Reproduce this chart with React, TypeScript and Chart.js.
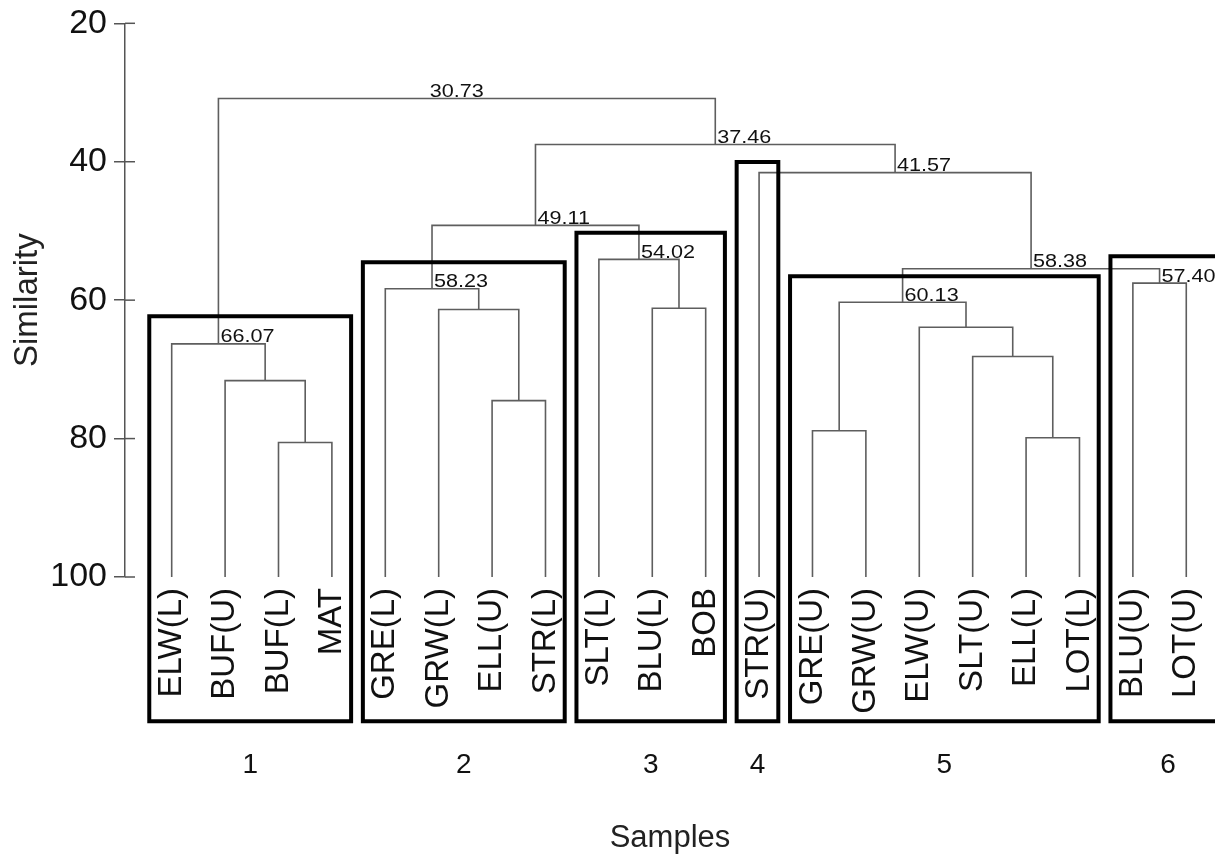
import React, { useEffect, useRef } from 'react';
import { Chart, registerables } from 'chart.js';

Chart.register(...registerables);

const FONT = "'Liberation Sans', Arial, Helvetica, sans-serif";

// Leaves (samples), left to right
const leafLabels = [
  'ELW(L)', 'BUF(U)', 'BUF(L)', 'MAT',
  'GRE(L)', 'GRW(L)', 'ELL(U)', 'STR(L)',
  'SLT(L)', 'BLU(L)', 'BOB',
  'STR(U)',
  'GRE(U)', 'GRW(U)', 'ELW(U)', 'SLT(U)', 'ELL(L)', 'LOT(L)',
  'BLU(U)', 'LOT(U)',
];

// Merges: child index < 20 is a leaf, >= 20 is merge (index - 20)
const mergeLeft = [2, 1, 0, 6, 5, 4, 9, 8, 25, 12, 16, 15, 14, 29, 18, 33, 11, 28, 22];
const mergeRight = [3, 20, 21, 7, 23, 24, 10, 26, 27, 13, 17, 30, 31, 32, 19, 34, 35, 36, 37];
// Similarity level at which each merge is drawn
const mergeHeight = [80.56, 71.63, 66.32, 74.52, 61.35, 58.36, 61.16, 54.11, 49.19, 78.87, 79.88, 68.15, 63.91, 60.3, 57.54, 55.46, 41.57, 37.51, 30.86];
// Printed node values
const mergeLabels = ['', '', '66.07', '', '', '58.23', '', '54.02', '49.11', '', '', '', '', '60.13', '57.40', '58.38', '41.57', '37.46', '30.73'];

// Cluster groups (boxes)
const clusterNames = ['1', '2', '3', '4', '5', '6'];
const clusterFirst = [0, 4, 8, 11, 12, 18];
const clusterLast = [3, 7, 10, 11, 17, 19];
const clusterTop = [62.32, 54.51, 50.25, 40.03, 56.53, 53.64];
const clusterBottom = 120.84;

const yTicks = [20, 40, 60, 80, 100];
const leafLevel = 100;

const X_MIN = -0.8745;
const X_MAX = 19.538;

const nLeaves = leafLabels.length;
const mergeX: number[] = [];
mergeLeft.forEach((a, k) => {
  const b = mergeRight[k];
  const xa = a < nLeaves ? a : mergeX[a - nLeaves];
  const xb = b < nLeaves ? b : mergeX[b - nLeaves];
  mergeX.push((xa + xb) / 2);
});
const nodeX = (i: number) => (i < nLeaves ? i : mergeX[i - nLeaves]);
const nodeY = (i: number) => (i < nLeaves ? leafLevel : mergeHeight[i - nLeaves]);

const boxLeft = (c: number) => clusterFirst[c] - 0.42;
const boxRight = (c: number) => (c === clusterFirst.length - 1 ? X_MAX + 0.2 : clusterLast[c] + 0.36);

const overlayPlugin = {
  id: 'dendroOverlay',
  afterDatasetsDraw(chart: any) {
    const { ctx, chartArea } = chart;
    const x = chart.scales.x;
    const y = chart.scales.y;
    ctx.save();
    // inner half of the cross ticks
    ctx.strokeStyle = '#555';
    ctx.lineWidth = 1.5;
    yTicks.forEach((v) => {
      const py = y.getPixelForValue(v);
      ctx.beginPath();
      ctx.moveTo(chartArea.left, py);
      ctx.lineTo(chartArea.left + 10, py);
      ctx.stroke();
    });
    // node values
    ctx.fillStyle = '#111';
    ctx.font = `18px ${FONT}`;
    ctx.textBaseline = 'alphabetic';
    mergeLabels.forEach((lab, k) => {
      if (!lab) return;
      const px = x.getPixelForValue(mergeX[k]);
      const py = y.getPixelForValue(mergeHeight[k]) - 1.5;
      const isRoot = k === mergeLabels.length - 1;
      ctx.save();
      ctx.translate(px, py);
      ctx.scale(1.2, 1);
      ctx.textAlign = isRoot ? 'center' : 'left';
      ctx.fillText(lab, isRoot ? -10 / 1.2 : 2 / 1.2, 0);
      ctx.restore();
    });
    // cluster numbers
    ctx.font = `28px ${FONT}`;
    ctx.textAlign = 'center';
    ctx.fillStyle = '#111';
    clusterNames.forEach((name, c) => {
      const cx = x.getPixelForValue((boxLeft(c) + boxRight(c)) / 2);
      ctx.fillText(name, cx, 773);
    });
    ctx.restore();
  },
};

export default function App() {
  const ref = useRef<HTMLCanvasElement>(null);
  useEffect(() => {
    document.body.style.margin = '0';
    document.body.style.overflow = 'hidden';
    const linkSets = mergeLeft.map((a, k) => {
      const b = mergeRight[k];
      const h = mergeHeight[k];
      return {
        data: [
          { x: nodeX(a), y: nodeY(a) },
          { x: nodeX(a), y: h },
          { x: nodeX(b), y: h },
          { x: nodeX(b), y: nodeY(b) },
        ],
        borderColor: '#5e5e5e',
        borderWidth: 1.6,
        pointRadius: 0,
        fill: false,
        tension: 0,
        clip: false as any,
        order: 2,
        borderJoinStyle: 'miter' as const,
      };
    });
    const boxSets = clusterNames.map((_, c) => {
      const l = boxLeft(c);
      const r = boxRight(c);
      const t = clusterTop[c];
      return {
        data: [
          { x: l, y: t },
          { x: r, y: t },
          { x: r, y: clusterBottom },
          { x: l, y: clusterBottom },
          { x: l, y: t },
        ],
        borderColor: '#000',
        borderWidth: 4,
        pointRadius: 0,
        fill: false,
        tension: 0,
        clip: false as any,
        order: 1,
        borderJoinStyle: 'miter' as const,
        borderCapStyle: 'square' as const,
      };
    });
    const chart = new Chart(ref.current!, {
      type: 'line',
      data: { datasets: [...boxSets, ...linkSets] as any },
      plugins: [overlayPlugin],
      options: {
        responsive: false,
        devicePixelRatio: 1,
        animation: false,
        events: [],
        layout: { padding: { top: 23.3, left: 0, right: 0, bottom: 0 } },
        plugins: { legend: { display: false }, tooltip: { enabled: false } },
        scales: {
          x: {
            type: 'linear',
            min: X_MIN,
            max: X_MAX,
            afterBuildTicks: (s: any) => {
              s.ticks = leafLabels.map((_, i) => ({ value: i }));
            },
            ticks: {
              autoSkip: false,
              minRotation: 90,
              maxRotation: 90,
              padding: 11,
              color: '#111',
              font: { family: FONT, size: 33 },
              callback: (v: any) => leafLabels[v as number] ?? '',
            },
            grid: { display: false, drawTicks: false },
            border: { display: false },
            title: {
              display: true,
              text: 'Samples',
              color: '#222',
              font: { family: FONT, size: 31 },
              padding: { top: 0, bottom: 5 },
            },
            afterFit: (s: any) => {
              s.height = 285;
              s.paddingLeft = 0;
              s.paddingRight = 0;
            },
          },
          y: {
            type: 'linear',
            min: 20,
            max: 100,
            reverse: true,
            afterBuildTicks: (s: any) => {
              s.ticks = yTicks.map((v) => ({ value: v }));
            },
            ticks: {
              color: '#111',
              font: { family: FONT, size: 34 },
              padding: 7,
            },
            grid: {
              drawOnChartArea: false,
              drawTicks: true,
              tickLength: 11,
              color: '#555',
              lineWidth: 1.5,
            },
            border: { display: true, color: '#555', width: 1.5 },
            title: {
              display: true,
              text: 'Similarity',
              color: '#222',
              font: { family: FONT, size: 33 },
              padding: { top: 8, bottom: 0 },
            },
            afterFit: (s: any) => {
              s.width = 125;
              s.paddingTop = 0;
              s.paddingBottom = 0;
            },
          },
        },
      } as any,
    });
    return () => chart.destroy();
  }, []);
  return (
    <div style={{ width: 1215, height: 862 }}>
      <canvas ref={ref} width={1215} height={862} style={{ display: 'block', width: 1215, height: 862 }} />
    </div>
  );
}
